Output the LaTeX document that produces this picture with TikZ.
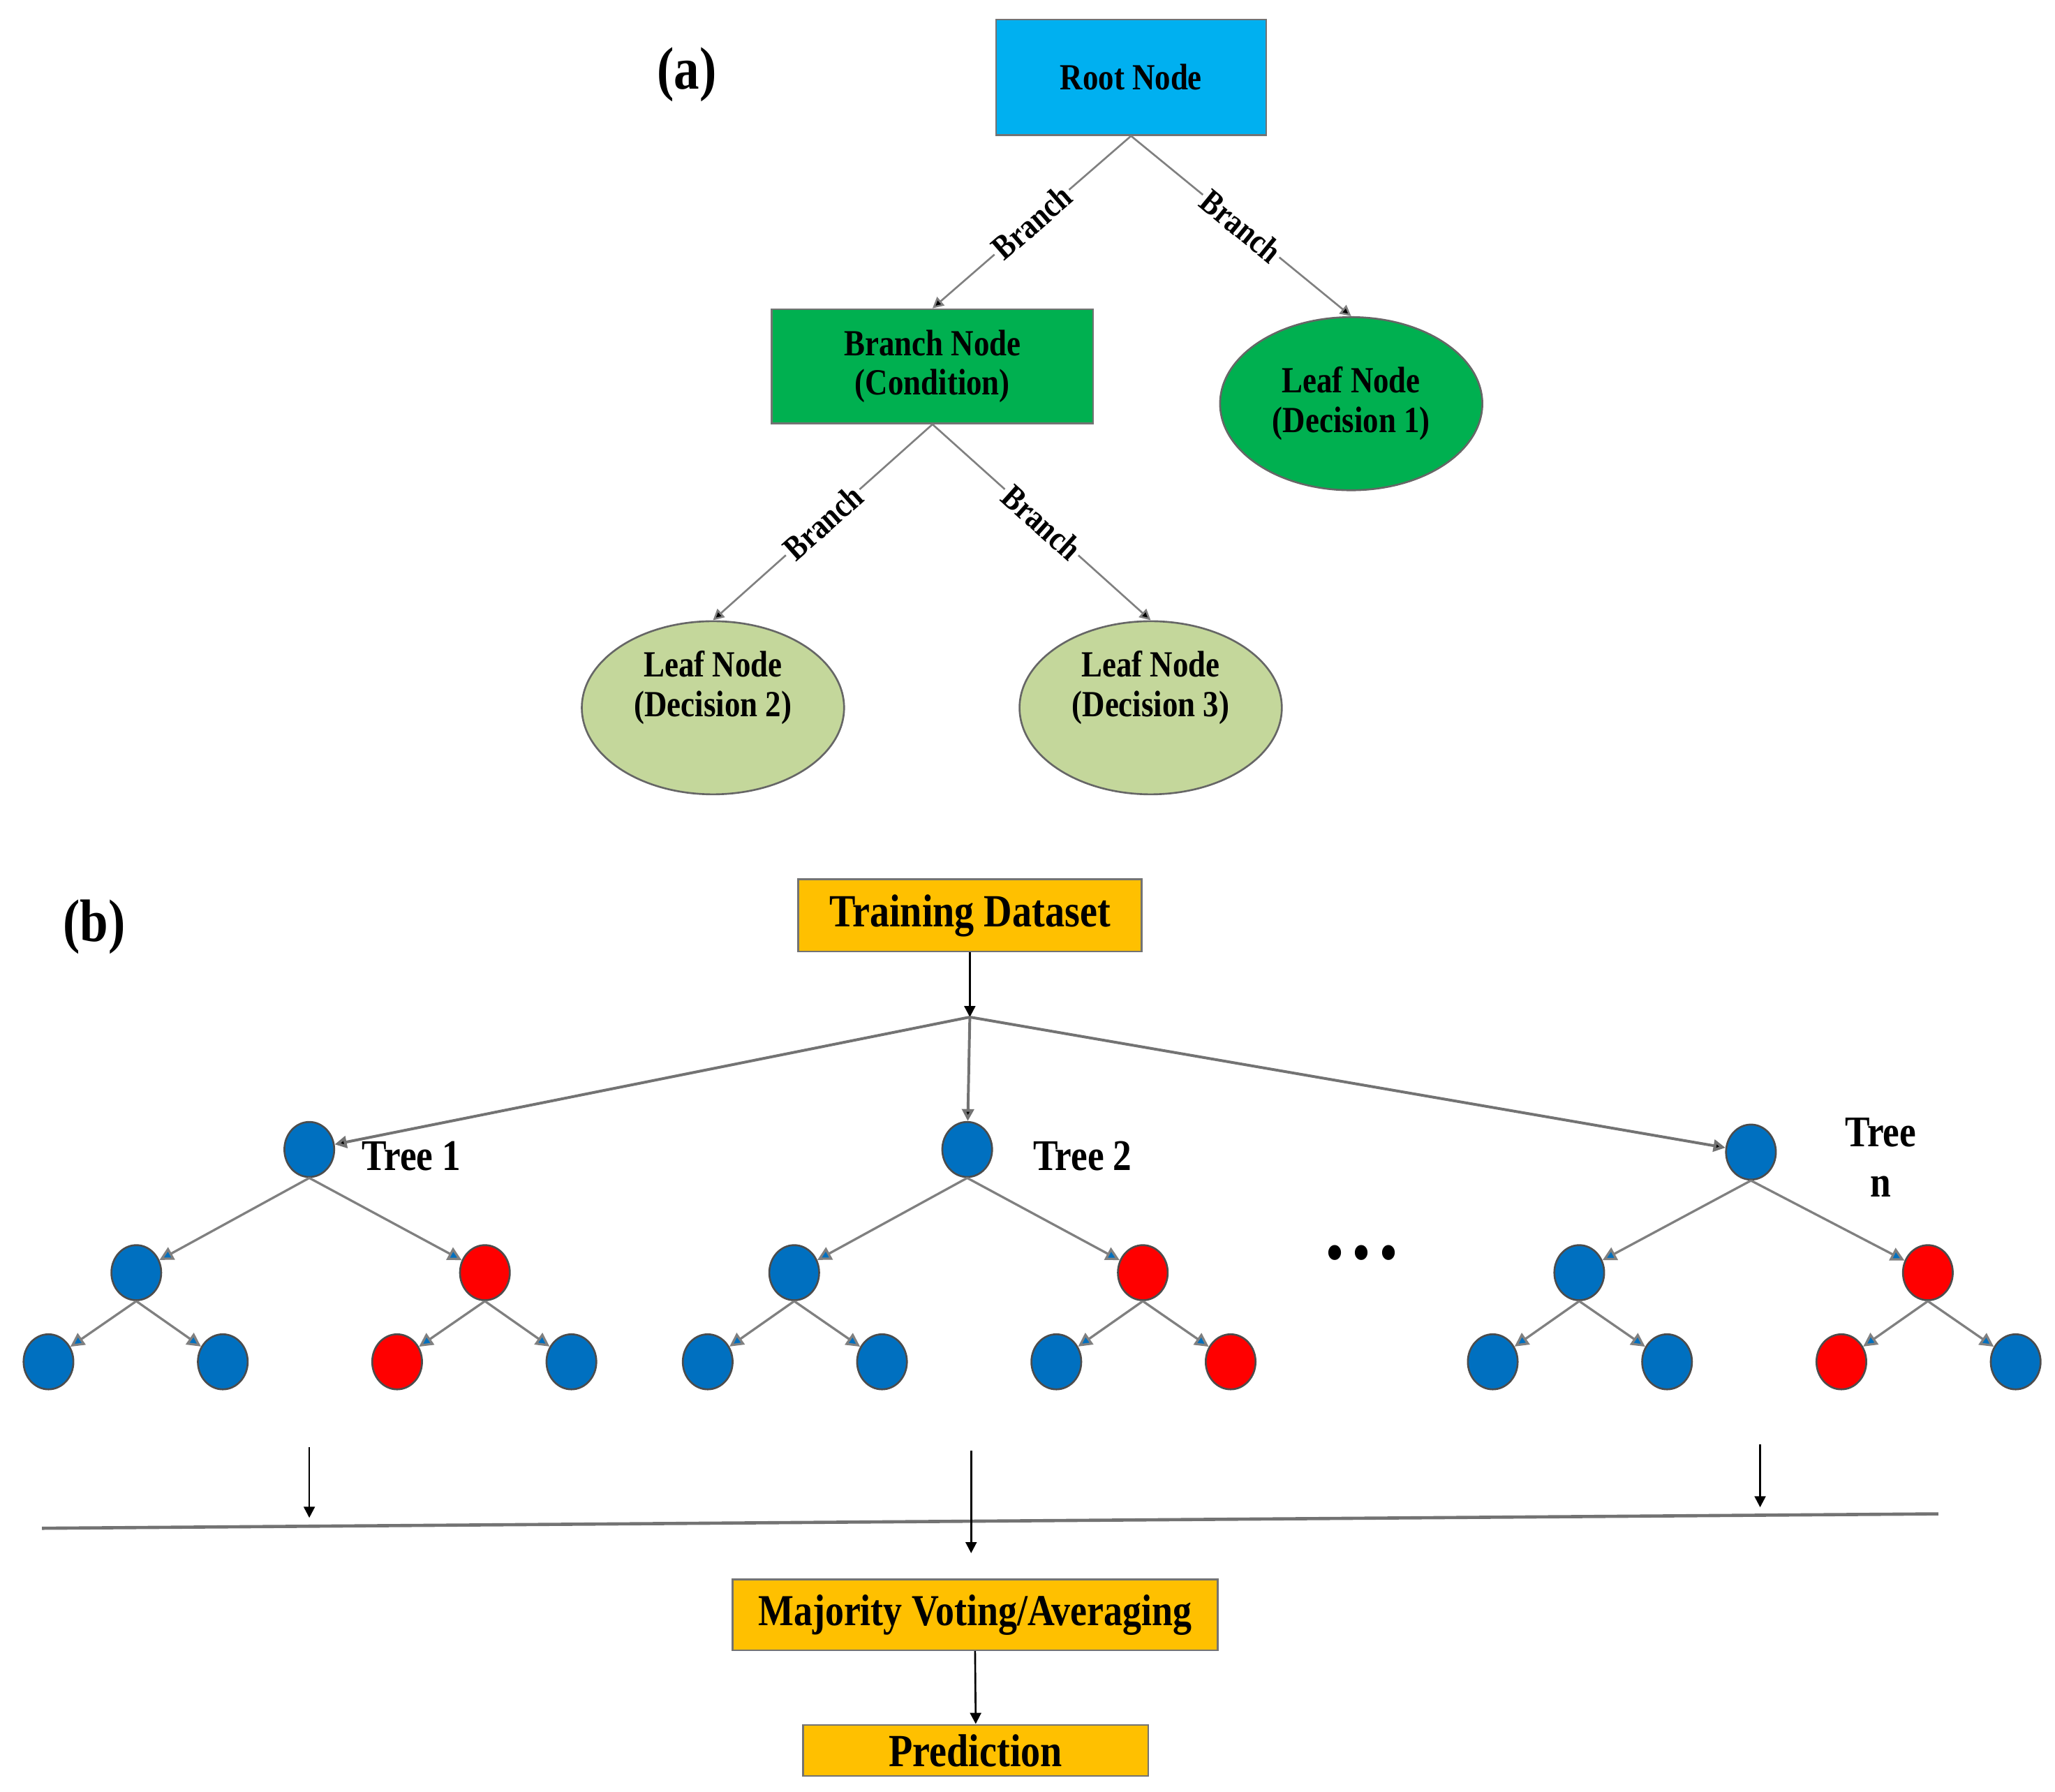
\documentclass[tikz,border=0pt]{standalone}
\usepackage{fontspec}
\setmainfont{Liberation Serif}[FakeStretch=0.85]
\usetikzlibrary{arrows.meta,shapes.geometric}
\definecolor{rootblue}{HTML}{00B0F0}
\definecolor{condgreen}{HTML}{00B050}
\definecolor{palegreen}{HTML}{C4D79B}
\definecolor{treeblue}{HTML}{0070C0}
\definecolor{treered}{HTML}{FF0000}
\definecolor{gold}{HTML}{FFC000}
\begin{document}
\begin{tikzpicture}[x=0.01cm, y=-0.01cm,
  box/.style={draw=black!55, inner sep=0, align=center, font=\bfseries\fontsize{8}{8.6}\selectfont},
  leaf/.style={ellipse, draw=black!60, inner sep=0, minimum width=2cm, minimum height=1.32cm, align=center, font=\bfseries\fontsize{8}{8.6}\selectfont},
  gbox/.style={draw=black!55, fill=gold, inner sep=0, font=\bfseries\fontsize{10}{12}\selectfont},
  edge/.style={draw=black!50, line width=0.4pt, -{Triangle[length=2.4pt,width=2.4pt,fill=black]}},
  lbl/.style={fill=white, inner sep=0.6pt, sloped, font=\bfseries\fontsize{7.5}{9}\selectfont},
  flow/.style={draw=black!55, line width=0.6pt, -{Triangle[length=2.6pt,width=2.6pt,fill=black]}},
  down/.style={draw=black, line width=0.4pt, -{Triangle[length=2.4pt,width=2.4pt]}},
  tedge/.style={draw=black!50, line width=0.5pt, -{Triangle[length=3pt,width=3pt,fill=treeblue]}},
  tb/.style={ellipse, draw=black!70, fill=treeblue, inner sep=0, minimum width=0.38cm, minimum height=0.42cm},
  tr/.style={tb, fill=treered},
  tname/.style={font=\bfseries\fontsize{9.5}{11}\selectfont, align=center}]
\useasboundingbox (0,0) rectangle (1568,1367);

% (a) single decision tree
\node [font=\bfseries\fontsize{13}{15}\selectfont] (la) at (524,57) {(a)};
\node [box, fill=rootblue, minimum width=2.06cm, minimum height=0.88cm] (root) at (863,59) {Root Node};
\node [box, fill=condgreen, minimum width=2.45cm, minimum height=0.87cm] (cond) at (711.5,279.5) {Branch Node\\(Condition)};
\node [leaf, fill=condgreen] (d1) at (1031,308) {Leaf Node\\(Decision 1)};
\node [leaf, fill=palegreen, text depth=10.5pt] (d2) at (544,540) {Leaf Node\\(Decision 2)};
\node [leaf, fill=palegreen, text depth=10.5pt] (d3) at (878,540) {Leaf Node\\(Decision 3)};

\draw [edge] (root.south) -- node [lbl] {Branch} (cond.north);
\draw [edge] (root.south) -- node [lbl] {Branch} (d1.north);
\draw [edge] (cond.south) -- node [lbl] {Branch} (d2.north);
\draw [edge] (cond.south) -- node [lbl] {Branch} (d3.north);

% (b) random forest
\node [font=\bfseries\fontsize{13}{15}\selectfont] (lb) at (72,707) {(b)};
\node [gbox, minimum width=2.62cm, minimum height=0.55cm] (train) at (740,698.5) {Training Dataset};
\coordinate (split) at (740,776);
\draw [down] (train.south) -- (split);

% tree 1
\node [tb] (t1) at (236,877) {};
\node [tb] (t1l) at (104,971) {};
\node [tr] (t1r) at (370,971) {};
\node [tb] (t1ll) at (37,1039) {};
\node [tb] (t1lr) at (170,1039) {};
\node [tr] (t1rl) at (303,1039) {};
\node [tb] (t1rr) at (436,1039) {};
\node [tname] (n1) at (314,882) {Tree 1};

% tree 2
\node [tb] (t2) at (738,877) {};
\node [tb] (t2l) at (606,971) {};
\node [tr] (t2r) at (872,971) {};
\node [tb] (t2ll) at (540,1039) {};
\node [tb] (t2lr) at (673,1039) {};
\node [tb] (t2rl) at (806,1039) {};
\node [tr] (t2rr) at (939,1039) {};
\node [tname] (n2) at (826,882) {Tree 2};

% tree n
\node [tb] (tn) at (1336,879) {};
\node [tb] (tnl) at (1205,971) {};
\node [tr] (tnr) at (1471,971) {};
\node [tb] (tnll) at (1139,1039) {};
\node [tb] (tnlr) at (1272,1039) {};
\node [tr] (tnrl) at (1405,1039) {};
\node [tb] (tnrr) at (1538,1039) {};
\node [tname] (nn) at (1435,883) {Tree\\n};

\node [inner sep=0, font=\bfseries\fontsize{20}{20}\selectfont] (dots) at (1039,956) {.\kern1.6pt.\kern1.6pt.};

\draw [flow] (split) -- (t1);
\draw [flow] (split) -- (t2);
\draw [flow] (split) -- (tn);

\draw [tedge] (t1.south) -- (t1l);
\draw [tedge] (t1.south) -- (t1r);
\draw [tedge] (t1l.south) -- (t1ll);
\draw [tedge] (t1l.south) -- (t1lr);
\draw [tedge] (t1r.south) -- (t1rl);
\draw [tedge] (t1r.south) -- (t1rr);

\draw [tedge] (t2.south) -- (t2l);
\draw [tedge] (t2.south) -- (t2r);
\draw [tedge] (t2l.south) -- (t2ll);
\draw [tedge] (t2l.south) -- (t2lr);
\draw [tedge] (t2r.south) -- (t2rl);
\draw [tedge] (t2r.south) -- (t2rr);

\draw [tedge] (tn.south) -- (tnl);
\draw [tedge] (tn.south) -- (tnr);
\draw [tedge] (tnl.south) -- (tnll);
\draw [tedge] (tnl.south) -- (tnlr);
\draw [tedge] (tnr.south) -- (tnrl);
\draw [tedge] (tnr.south) -- (tnrr);

% votes
\coordinate (v1) at (236,1104);
\coordinate (w1) at (236,1158);
\coordinate (v2) at (741,1107);
\coordinate (w2) at (741,1185);
\coordinate (vn) at (1343,1102);
\coordinate (wn) at (1343,1150);
\coordinate (hl) at (32,1166);
\coordinate (hr) at (1479,1155);
\draw [draw=black!55, line width=0.7pt] (hl) -- (hr);
\draw [down] (v1) -- (w1);
\draw [down] (v2) -- (w2);
\draw [down] (vn) -- (wn);

\node [gbox, minimum width=3.70cm, minimum height=0.54cm, font=\bfseries\fontsize{9.6}{11}\selectfont] (vote) at (744,1232) {Majority Voting/Averaging};
\node [gbox, minimum width=2.63cm, minimum height=0.39cm] (pred) at (744.5,1335.5) {Prediction};
\draw [down] (vote.south) -- (pred.north);

\end{tikzpicture}
\end{document}
